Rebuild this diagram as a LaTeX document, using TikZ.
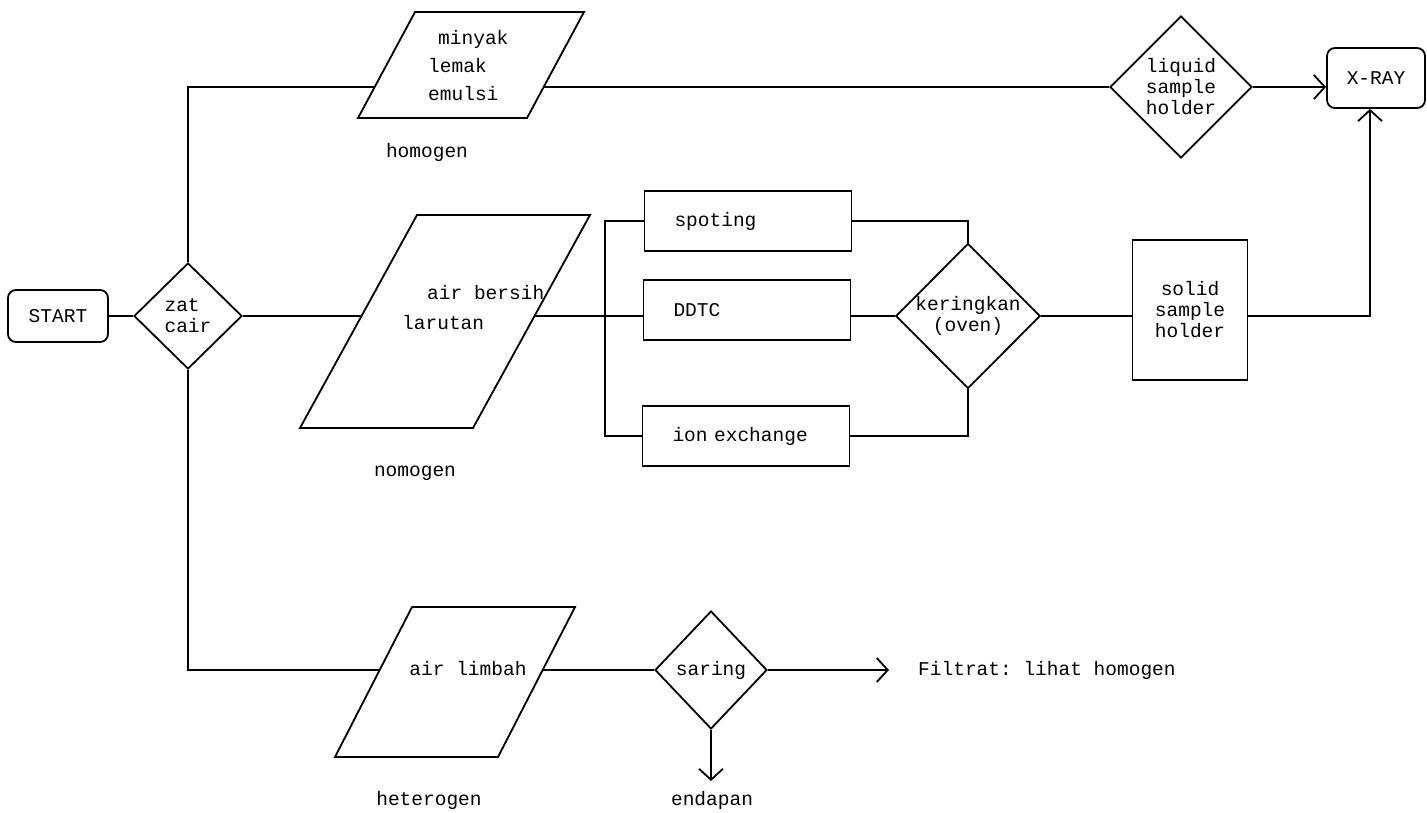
\documentclass[tikz,border=0pt]{standalone}
\usepackage{fontspec}
\setmainfont[WordSpace={1,0,0}]{Liberation Mono}
\frenchspacing
\usetikzlibrary{shapes.geometric,arrows.meta,calc}
\begin{document}
\begin{tikzpicture}[x=1pt,y=-1pt,
  every node/.style={font=\fontsize{19.5}{21}\selectfont\frenchspacing, inner sep=0pt},
  ln/.style={line width=1.8pt},
  rbox/.style={draw, line width=1.8pt, rounded corners=8pt},
  box/.style={draw, line width=1.8pt},
  dia/.style={draw, diamond, line width=1.8pt, aspect=1},
  para/.style={draw, line width=1.8pt, line join=miter},
  arr/.style={line width=1.8pt, -{Straight Barb[length=11pt,width=24pt]}},
  procbox/.style={box, minimum width=207pt, minimum height=60pt, text width=147pt, inner xsep=30pt, align=left}
]
\fill[white] (0,0) rectangle (1427,812);
\useasboundingbox (0,0) rectangle (1427,812);

% start and first decision
\node[rbox, minimum width=100pt, minimum height=52pt] (start) at (58,316) {START};
\node[dia, minimum width=108pt, minimum height=106pt, align=left] (zc) at (188,316) {zat\\cair};
\draw[ln] (start.east) -- (zc.west);

% top branch
\coordinate (p1tl) at (415,12);
\coordinate (p1tr) at (584,12);
\coordinate (p1br) at (527,118);
\coordinate (p1bl) at (358,118);
\draw[para] (p1tl) -- (p1tr) -- (p1br) -- (p1bl) -- cycle;
\coordinate (p1w) at (374.7,87);
\coordinate (p1e) at (543.7,87);
\node[align=left, anchor=west] (p1t) at (428,66) {\hspace*{10pt}minyak\\[7pt]lemak\\[7pt]emulsi};
\node (hom1) at (427,152) {homogen};
\node[dia, minimum width=142pt, minimum height=142pt, align=center] (liq) at (1181,87) {liquid\\sample\\holder};
\node[rbox, minimum width=98pt, minimum height=60pt] (xray) at (1376,78) {X-RAY};
\draw[ln] (zc.north) |- (p1w);
\draw[ln] (p1e) -- (liq.west);
\draw[arr] (liq.east) -- (liq.east -| xray.west);

% middle branch
\coordinate (p2tl) at (417,215);
\coordinate (p2tr) at (590,215);
\coordinate (p2br) at (473,428);
\coordinate (p2bl) at (300,428);
\draw[para] (p2tl) -- (p2tr) -- (p2br) -- (p2bl) -- cycle;
\coordinate (p2w) at (361.5,316);
\coordinate (p2e) at (534.5,316);
\node[anchor=west] (p2a) at (427,293) {air bersih};
\node[anchor=west] (p2b) at (402,323) {larutan};
\node (hom2) at (415,473) {nomogen};

\node[procbox] (spot) at (748,221) {spoting};
\node[procbox] (ddtc) at (747,310) {DDTC};
\node[procbox] (ion) at (746,436) {ion exchange};
\coordinate (bx) at (605,0);

\draw[ln] (zc.east) -- (p2w);
\draw[ln] (p2e) -- (p2e -| ddtc.west);
\draw[ln] (spot.west) -- (spot.west -| bx) -- (ion.west -| bx) -- (ion.west);

\node[dia, minimum width=143pt, minimum height=145pt, align=center] (ker) at (968,316) {keringkan\\(oven)};
\draw[ln] (spot.east) -| (ker.north);
\draw[ln] (ion.east) -| (ker.south);
\draw[ln] (ddtc.east |- ker.west) -- (ker.west);

\node[box, minimum width=115pt, minimum height=140pt, align=center] (ssh) at (1190,310) {solid\\sample\\holder};
\draw[ln] (ker.east) -- (ker.east -| ssh.west);
\draw[arr] (ssh.east |- ker.east) -| ([xshift=-6pt]xray.south);

% bottom branch
\coordinate (p3tl) at (412,607);
\coordinate (p3tr) at (575,607);
\coordinate (p3br) at (498,757);
\coordinate (p3bl) at (335,757);
\draw[para] (p3tl) -- (p3tr) -- (p3br) -- (p3bl) -- cycle;
\coordinate (p3w) at (379.7,670);
\coordinate (p3e) at (542.7,670);
\node (p3t) at (468,669) {air limbah};
\node (het) at (429,800) {heterogen};
\draw[ln] (zc.south) |- (p3w);

\node[dia, minimum width=112pt, minimum height=118pt] (sar) at (711,670) {saring};
\draw[ln] (p3e) -- (sar.west);
\coordinate (filt) at (889,670);
\draw[arr] (sar.east) -- (filt);
\node[anchor=west] (ftxt) at (918,670) {Filtrat: lihat homogen};
\coordinate (endp) at (711,781);
\draw[arr] (sar.south) -- (endp);
\node (end) at (712,800) {endapan};
\end{tikzpicture}
\end{document}
